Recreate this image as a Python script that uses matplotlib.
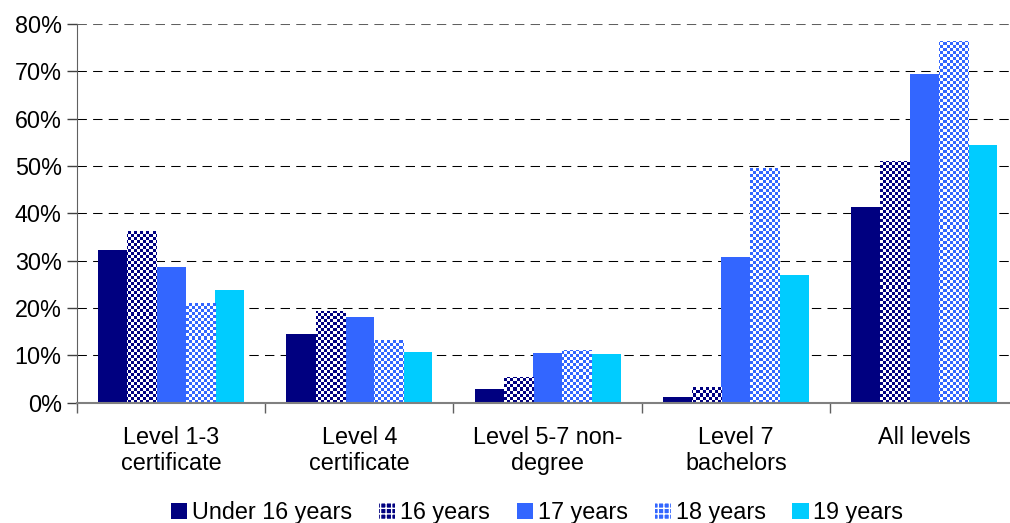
import numpy as np
import matplotlib
matplotlib.use("Agg")
import matplotlib.pyplot as plt
from matplotlib.colors import ListedColormap
from matplotlib.patches import Patch
from matplotlib.ticker import FuncFormatter, FixedLocator

plt.rcParams['font.family'] = ['Liberation Sans', 'DejaVu Sans']

CATEGORIES = ["Level 1-3\ncertificate", "Level 4\ncertificate", "Level 5-7 non-\ndegree",
              "Level 7\nbachelors", "All levels"]
SERIES = ["Under 16 years", "16 years", "17 years", "18 years", "19 years"]
UNDER16 = [32.2, 14.4, 2.8, 1.1, 41.3]
AGE16 = [36.2, 19.4, 5.3, 3.2, 51.0]
AGE17 = [28.6, 18.0, 10.4, 30.7, 69.4]
AGE18 = [21.0, 13.3, 11.0, 49.5, 76.4]
AGE19 = [23.7, 10.6, 10.2, 26.9, 54.4]
VALUES = [UNDER16, AGE16, AGE17, AGE18, AGE19]

# (fill colour, checker colour or None)
STYLES = [("#000080", None), ("#000080", "white"), ("#3366ff", None),
          ("#3366ff", "white"), ("#00ccff", None)]

fig = plt.figure(figsize=(10.1, 5.23), dpi=100)
ax = fig.add_axes([0.0762, 0.2304, 0.932, 0.7236])

x = np.arange(len(CATEGORIES))
width = 0.155
fs = 16.8

# checkerboard texture, about 3 px per cell
ny, nx = 126, 313
checker = (np.add.outer(np.arange(ny), np.arange(nx)) % 2).astype(float)

for i, (vals, (col, chk)) in enumerate(zip(VALUES, STYLES)):
    bars = ax.bar(x + (i - 2) * width, vals, width, color=col, linewidth=0, zorder=3)
    if chk is not None:
        cmap = ListedColormap([col, chk])
        for b in bars:
            im = ax.imshow(checker, cmap=cmap, extent=[0, 1, 0, 1], transform=ax.transAxes,
                           aspect='auto', interpolation='nearest', zorder=3.5)
            im.set_clip_path(b)

ax.set_xlim(-0.5, len(CATEGORIES) - 0.5)
ax.set_ylim(0, 80)

ax.yaxis.set_major_locator(FixedLocator(np.arange(0, 81, 10)))
ax.yaxis.set_major_formatter(FuncFormatter(lambda v, p: f"{v:.0f}%"))
ax.tick_params(axis='y', direction='out', length=7, width=1, color='#404040',
               labelsize=fs, pad=4)
for yv in range(10, 81, 10):
    ax.axhline(yv, color='black' if yv < 80 else '#606060', lw=0.75,
               linestyle=(0, (9, 6)), zorder=1)

ax.set_xticks(x)
ax.set_xticklabels(CATEGORIES, fontsize=fs, linespacing=1.15)
ax.tick_params(axis='x', length=0, pad=17)
ax.set_xticks(np.arange(-0.5, len(CATEGORIES)), minor=True)
ax.tick_params(axis='x', which='minor', direction='out', length=7, width=1, color='#606060')

for s in ['top', 'right']:
    ax.spines[s].set_visible(False)
ax.spines['left'].set_color('#606060')
ax.spines['bottom'].set_color('#808080')
ax.spines['bottom'].set_linewidth(1.5)
ax.spines['bottom'].set_zorder(4)

handles = []
for name, (col, chk) in zip(SERIES, STYLES):
    if chk is None:
        handles.append(Patch(facecolor=col, edgecolor='none', label=name))
    else:
        handles.append(Patch(facecolor=col, edgecolor=chk, hatch='+++', linewidth=0, label=name))

fig.legend(handles=handles, loc='lower center', bbox_to_anchor=(0.532, -0.042), ncol=5,
           frameon=False, fontsize=fs, handlelength=0.7, handleheight=0.7,
           handletextpad=0.2, columnspacing=1.15)

fig.savefig("out.png", dpi=100)
